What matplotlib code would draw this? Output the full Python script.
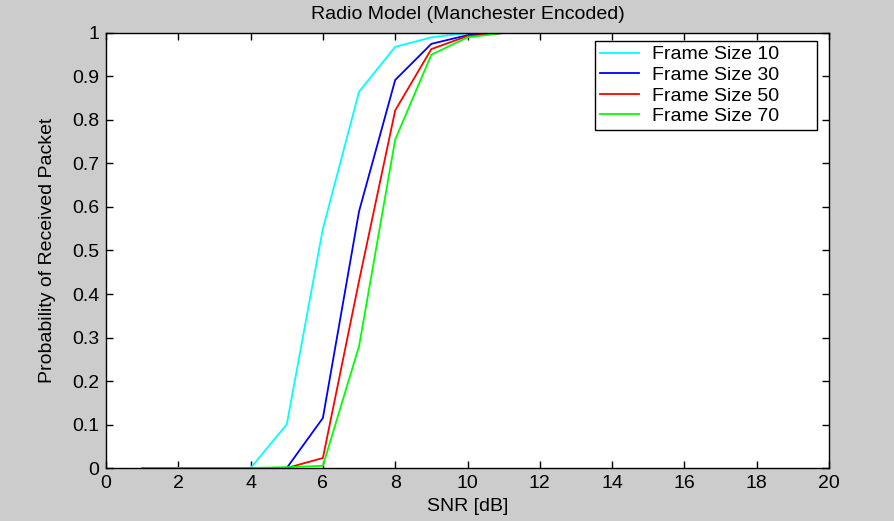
import matplotlib
matplotlib.use("Agg")
import matplotlib.pyplot as plt

plt.rcParams['font.family'] = ['Liberation Sans', 'DejaVu Sans']

snr = [1, 2, 3, 4, 5, 6, 7, 8, 9, 10, 11, 12, 13, 14, 15, 16, 17, 18, 19]
frame10 = [0, 0, 0, 0, 0.10, 0.55, 0.865, 0.968, 0.99, 1.0, 1, 1, 1, 1, 1, 1, 1, 1, 1]
frame30 = [0, 0, 0, 0, 0.0, 0.115, 0.59, 0.892, 0.975, 0.995, 1, 1, 1, 1, 1, 1, 1, 1, 1]
frame50 = [0, 0, 0, 0, 0.0, 0.023, 0.43, 0.822, 0.963, 0.993, 1, 1, 1, 1, 1, 1, 1, 1, 1]
frame70 = [0, 0, 0, 0, 0.002, 0.005, 0.28, 0.755, 0.95, 0.99, 1, 1, 1, 1, 1, 1, 1, 1, 1]
labels = ["Frame Size 10", "Frame Size 30", "Frame Size 50", "Frame Size 70"]
colors = ["#00ffff", "#0000ff", "#ff0000", "#00ff00"]

fig = plt.figure(figsize=(8.95, 5.21), dpi=100, facecolor="#cccccc")
ax = fig.add_axes([0.1184, 0.1017, 0.8079, 0.835])
ax.set_facecolor("white")

for ys, lab, c in zip([frame10, frame30, frame50, frame70], labels, colors):
    ax.plot(snr, ys, color=c, lw=1.3, label=lab)

ax.set_xlim(0, 20)
ax.set_ylim(0, 1)
ax.set_xticks(range(0, 21, 2))
ax.set_yticks([i / 10 for i in range(11)])
ax.set_yticklabels(["0", "0.1", "0.2", "0.3", "0.4", "0.5", "0.6", "0.7", "0.8", "0.9", "1"])
ax.tick_params(direction="in", top=True, right=True, length=5, width=1, labelsize=14, pad=5)
for s in ax.spines.values():
    s.set_linewidth(1.0)
    s.set_color("black")

ax.set_title("Radio Model (Manchester Encoded)", fontsize=14, pad=10)
ax.set_xlabel("SNR [dB]", fontsize=14, labelpad=4)
ax.set_ylabel("Probability of Received Packet", fontsize=14, labelpad=11)

leg = ax.legend(loc="upper left", bbox_to_anchor=(0.6763, 0.0, 0.3071, 0.9816),
                mode="expand", fontsize=14,
                fancybox=False, framealpha=1, edgecolor="black",
                handlelength=2.0, borderpad=0.25, labelspacing=0.15,
                handletextpad=0.7, borderaxespad=0.0)
leg.get_frame().set_linewidth(1.0)

fig.savefig("out.png", dpi=100, facecolor=fig.get_facecolor())
